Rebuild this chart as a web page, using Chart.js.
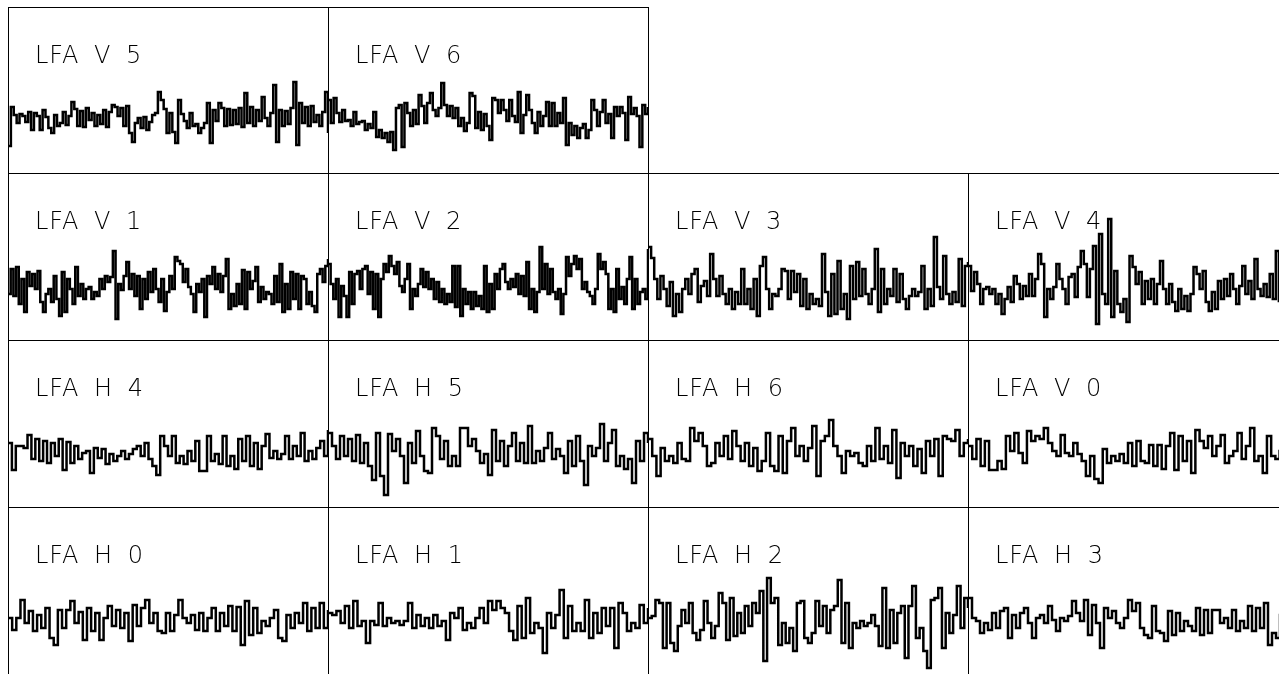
<!DOCTYPE html>
<html>
<head>
<meta charset="utf-8">
<script src="https://cdn.jsdelivr.net/npm/chart.js@4.4.1/dist/chart.umd.min.js"></script>
<style>
  body { margin: 0; background: #fff; width: 1279px; height: 676px; overflow: hidden; position: relative; }
  .cell { position: absolute; width: 320px; height: 167px; box-sizing: border-box; border-left: 1px solid #000; border-top: 1px solid #000; }
  .cell.last-top { border-right: 1px solid #000; width: 321px; }
  canvas { position: absolute; }
  .label { position: absolute; font-family: "DejaVu Sans", sans-serif; font-weight: 200; font-size: 24px; color: #000; letter-spacing: 1px; word-spacing: 6px; line-height: 1; white-space: pre; }
</style>
</head>
<body>
<script>
// trace samples per panel, in pixel-ish units above (+) / below (-) the trace centre
const lfaV5 = [-28, 11, 3, -5, 4, 2, -4, 6, -12, 5, 2, -12, 8, 1, -10, -15, 3, -8, -5, 6, -7, 2, 16, 9, -8, 7, -9, 10, -2, 5, -8, 3, -6, 8, -9, 6, 13, 11, 2, 10, -8, 12, -15, -24, -5, 0, -10, 1, -12, -4, 3, 5, 26, 18, 9, -15, 5, -14, -25, 18, 4, -3, -10, 5, -8, -6, -15, -10, -5, 15, -25, 8, -3, 15, 10, -8, 9, -7, 8, -6, 10, -9, 25, -5, 11, -8, 8, -3, 21, 0, -8, 5, 33, -24, 8, -8, 7, -6, 10, 36, -27, 15, -5, 11, -8, 12, -4, 3, -8, 6, 26, -15];
const lfaV6 = [18, -5, 20, 5, -4, 8, -3, -2, -8, 6, -6, -4, -3, -12, -6, -10, 6, -19, -12, -20, -15, -24, -14, -32, 10, 13, -29, 15, 5, -8, 8, -6, 23, 12, -5, 15, 25, 8, 2, 10, 35, 13, 2, 12, 0, 10, -8, 0, -13, -5, 25, 22, -10, 6, -12, 4, -8, -22, 20, 18, 5, 18, 8, -3, 18, 2, -4, 26, -15, 3, 23, 8, -5, -15, 6, -8, 2, 16, -8, 15, -8, 5, -5, 20, -27, -5, -17, -8, -20, -10, -6, -20, -12, 18, 8, -8, 6, 18, -5, 4, -20, 11, 2, 11, 5, -22, 21, 4, 10, 2, -29, 13, 4, 11];
const lfaV1 = [-10, 15, -12, 17, -20, 5, -28, 12, -2, 10, -5, 13, -18, -28, -10, -5, -18, 8, -15, -32, 12, -28, 5, -5, -20, 17, -12, 0, -15, -5, -3, -15, -8, -12, 5, -5, 8, 2, 7, 33, -35, 0, -6, 8, 22, -5, 10, -12, 8, -25, 5, -15, 12, -8, 15, -5, -18, 5, -27, -8, 8, -5, 27, 23, 20, 2, 15, -3, -10, -28, 0, -8, 5, -33, 8, 0, 17, -5, 10, -8, 8, 25, -25, -10, -22, 0, -20, 14, -25, 12, -5, 3, 17, -18, -3, -15, -8, -10, -20, 8, -18, 20, -28, 0, -25, 12, -15, 10, -25, 8, 5, -20, -8, -22, -28, 10, 15, 2, 18, 25];
const lfaV2 = [20, 0, -15, 5, -33, -2, -12, -33, 12, -20, 10, 13, -5, 15, 18, -10, 12, -25, 10, -33, 5, 20, 12, 28, 18, 10, 22, -2, -8, 5, 20, -25, -5, -12, 0, 15, -3, 12, -5, 5, -15, 2, -18, -5, -20, -10, -18, 18, -23, 18, -32, -5, -20, -8, -25, -8, -22, -12, -25, 18, -28, 0, -25, 10, -5, 15, 20, 2, -5, 5, -3, 10, -10, 8, -12, 22, -25, -5, -28, -8, 37, -5, 20, -10, 15, -8, -15, -5, -30, -10, 27, 8, 20, 28, 15, 25, -5, 2, -8, -12, -20, -5, 30, 15, 22, 10, -25, -5, -28, 15, -15, -3, -20, 5, 27, -25, 5, -20, -8, -5, -15, 35];
const lfaV3 = [37, 26, 5, -15, 8, -5, -22, 2, -32, -10, -28, -5, 5, -10, 10, 15, -18, -2, 3, -12, 30, 5, -12, 8, -10, -20, -5, -25, -8, -20, 15, -20, -5, -25, 5, -32, 18, 27, -5, -25, -10, -12, -5, 15, 13, -15, 13, -8, 10, -22, 5, -25, -10, -20, -15, -22, 30, -8, -32, 10, -30, 23, -25, -10, -35, 18, -15, 22, -12, 15, -10, -20, -5, 35, -28, 15, -20, -5, -12, 15, -18, 10, -15, -25, -12, -5, -12, -8, 18, -25, -5, -22, 47, -3, -15, 28, -10, -20, -8, -18, 25, -22, 18, 22];
const lfaV4 = [18, -7, 12, 0, -20, -5, -3, -10, -5, -20, -10, -30, -15, -3, -18, 8, 0, -15, -2, -12, 10, -12, 5, 30, 20, -33, -5, -15, -3, 20, 5, -5, -20, 7, 10, -13, 17, 33, 20, -13, 15, 38, -40, 50, -10, -20, 65, -33, 13, -20, -28, -15, -38, 28, 17, 0, 12, -20, 3, -15, 5, -20, 0, 23, -5, -20, 0, -18, -27, -5, -25, -12, -27, -10, 17, 10, -5, 13, -18, -27, -8, -25, 3, -15, 5, -12, 10, -5, -20, -2, 18, -10, 3, -15, 25, -5, -12, 0, -13, 10, -15, 33, -17, -5, 10, -8];
const lfaH4 = [8, -19, 5, 5, 3, 16, -8, 12, -10, 10, -12, 8, -5, 12, -19, 9, -12, 5, -8, -2, 0, -22, 3, -7, 2, -13, -3, -10, -5, 0, -8, -3, 2, 5, -5, 8, -8, -15, -24, 15, 5, -5, 15, -12, -5, -13, 0, -10, 10, -20, -20, 15, -10, -3, -13, 15, -15, -5, -18, 12, -10, 15, -15, 8, -18, 5, 17, -7, 0, -8, -3, 15, -8, 5, -5, 18, -10, 0, -8, 3, 10, -5, 21];
const lfaH5 = [18, 5, -8, 15, -5, 12, -10, 16, -12, 8, -15, -29, 18, -25, -44, 17, 0, 12, -5, -32, 8, -12, 20, -5, -20, -22, 23, 15, -8, 10, -15, -5, -15, 23, 23, 5, 12, 0, -12, -3, -24, 21, -10, 10, -15, 5, 18, -10, 8, -12, 25, -12, 0, -10, 3, 18, -8, 2, -5, -22, 10, -15, 15, -10, -34, 5, -5, 3, 27, -10, 8, 21, -15, -5, -18, -8, -32, 10, -10, 18, 8];
const lfaH6 = [12, -5, -25, 3, -10, -5, -12, 8, -8, -10, 23, 10, 18, 5, -15, -12, 8, -5, 15, -8, 20, 5, -10, 8, -15, 3, -20, -10, 18, -15, -20, 15, -22, 10, 23, -5, 5, -10, 3, 25, -25, 10, 15, 31, 5, -5, -22, 0, -5, -2, -12, -15, 5, -10, 23, -8, 5, -12, 21, -27, 8, -5, 5, -15, 2, -22, 10, -5, 12, -25, 15, 12, 10, 21, -5, 8, 12];
const lfaV0 = [5, -8, 12, -15, 10, -19, -19, -10, -18, 15, 0, 18, -2, -12, 20, 10, 15, 12, 23, 8, 0, -5, 16, -2, -5, 8, -3, -10, -25, -5, -28, -32, 2, -12, -5, -10, -3, -12, 8, -15, 10, -10, -12, 6, -15, 6, -18, 5, 18, -19, 15, -10, 10, -22, 21, 10, 3, 15, -5, 5, 16, -12, -5, 0, 18, -8, 5, 23, -10, -5, -22, 15, -5, -8, 0, 5, -3];
const lfaH0 = [0, -12, 0, 18, -5, 7, -13, 3, -10, 10, -20, -27, 8, -10, 8, 17, -5, 6, -22, 10, -13, 5, -22, 0, 12, -8, 8, -10, 5, -23, 13, -8, 10, 18, -5, 5, -13, -15, 5, -13, 3, 18, 0, -5, 3, -12, 5, -13, 0, 10, -13, 5, -8, 12, -13, 11, -27, 17, -17, 10, -15, -3, -8, 0, 8, -20, -23, 3, -10, 5, -5, 15, -13, 10, -10, 15, -10, 8];
const lfaH1 = [5, 3, 7, -5, 12, -10, 17, -8, -3, -25, -3, -7, 15, -8, 0, -5, -3, -7, -3, 15, -10, 3, -8, 0, -10, 3, -8, -3, -22, 5, 0, 10, -12, -5, -10, 0, 10, -5, 17, 8, 17, 10, 5, -13, -22, 12, -20, 20, -15, -5, -10, -35, 5, -10, 3, 28, -20, 12, -13, -5, -13, 18, -20, 5, -15, 10, -8, 10, -30, 15, 5, -13, -5, -10, 13, -5, 10];
const lfaH2 = [0, 2, 18, 15, -30, 15, -25, -33, -8, 8, -5, 15, -15, -22, -12, 17, -5, -20, -8, 25, 15, -22, 20, -18, 5, -15, 12, -8, 15, 5, 27, -43, 40, 15, 20, -27, -5, -25, -10, -33, 15, 17, -20, -25, -15, 17, -8, 12, -15, 8, 12, 38, -25, 15, -30, -5, -10, -3, -8, -5, 3, -8, -28, 30, -30, 8, -25, 5, 12, -40, 12, 32, -20, -10, -33, -50, 18, 20, 30, -30, 5, -15, 3, 32, -10, 20, 10];
const lfaH3 = [20, 0, -3, -15, -5, -12, 5, -10, 7, 10, -20, 3, -10, 5, 10, -5, -20, 0, 3, -5, 12, -2, -13, 0, -3, 2, 17, 5, -3, 18, -17, 13, -5, -30, 10, 0, 7, -5, -10, 0, 18, 7, 15, -10, -17, -20, 12, -13, -15, -23, 7, -17, 5, -13, -3, -8, -13, 10, -17, 8, -15, 8, 8, -5, 0, -10, 8, -13, -3, -10, 12, -13, 10, -10, 15, -27, -15, -20, 3, -8, 3];

// panels in reading order: top row has two, the rest have four
const panelLabels = ['LFA V 5', 'LFA V 6',
  'LFA V 1', 'LFA V 2', 'LFA V 3', 'LFA V 4',
  'LFA H 4', 'LFA H 5', 'LFA H 6', 'LFA V 0',
  'LFA H 0', 'LFA H 1', 'LFA H 2', 'LFA H 3'];
const panelTraces = [lfaV5, lfaV6, lfaV1, lfaV2, lfaV3, lfaV4, lfaH4, lfaH5, lfaH6, lfaV0, lfaH0, lfaH1, lfaH2, lfaH3];

const COL_X = [8, 328, 648, 968];
const ROW_Y = [7, 173, 340, 507];
const CELL_W = 320, CELL_H = 167;
const TRACE_MID = 111; // from the cell top

function cellPos(i) {
  if (i < 2) return { row: 0, col: i };
  return { row: 1 + Math.floor((i - 2) / 4), col: (i - 2) % 4 };
}

panelLabels.forEach((label, i) => {
  const { row, col } = cellPos(i);
  const x = COL_X[col], y = ROW_Y[row];

  const cell = document.createElement('div');
  cell.className = 'cell' + (row === 0 && col === 1 ? ' last-top' : '');
  cell.style.left = x + 'px';
  cell.style.top = y + 'px';
  document.body.appendChild(cell);

  const canvas = document.createElement('canvas');
  canvas.width = CELL_W;
  canvas.height = CELL_H;
  canvas.style.left = x + 'px';
  canvas.style.top = y + 'px';
  document.body.appendChild(canvas);

  const trace = panelTraces[i];
  new Chart(canvas, {
    type: 'line',
    data: {
      labels: trace.map((_, k) => k),
      datasets: [{
        data: trace,
        borderColor: '#000',
        borderWidth: 2.5,
        stepped: true,
        pointRadius: 0,
        fill: false
      }]
    },
    options: {
      responsive: false,
      animation: false,
      events: [],
      layout: { padding: 0 },
      plugins: { legend: { display: false }, tooltip: { enabled: false } },
      scales: {
        x: { display: false },
        y: { display: false, min: TRACE_MID - CELL_H, max: TRACE_MID }
      }
    }
  });

  const lab = document.createElement('div');
  lab.className = 'label';
  lab.textContent = label;
  lab.style.left = (x + 27) + 'px';
  lab.style.top = (y + 36) + 'px';
  document.body.appendChild(lab);
});
</script>
</body>
</html>
